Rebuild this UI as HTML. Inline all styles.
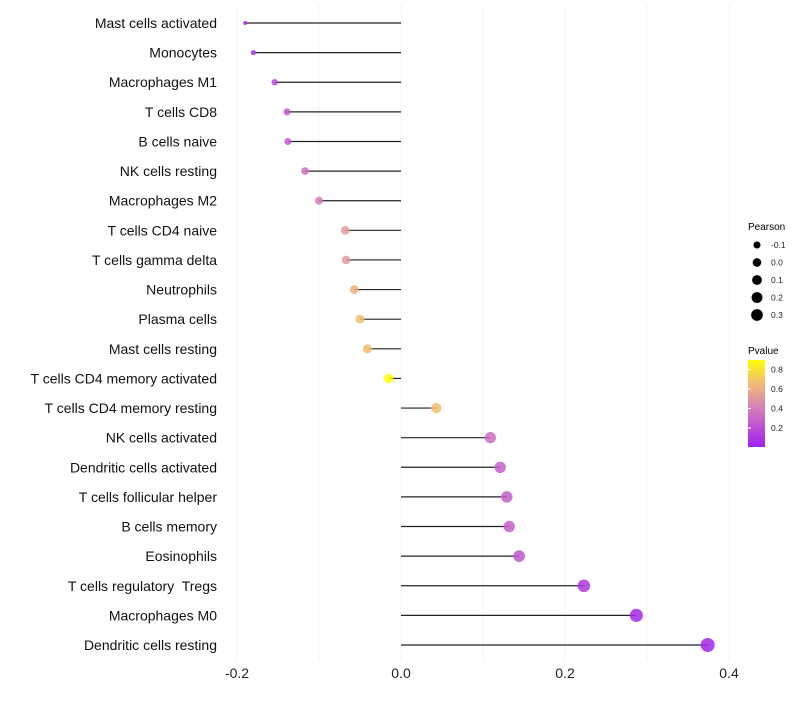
<!DOCTYPE html>
<html><head><meta charset="utf-8"><style>
body{margin:0;background:#fff;font-family:"Liberation Sans",sans-serif}
text{white-space:pre}
</style></head><body>
<svg id="chart" width="800" height="700" xmlns="http://www.w3.org/2000/svg" font-family="Liberation Sans, sans-serif">
<defs><linearGradient id="pg" x1="0" y1="1" x2="0" y2="0">
<stop offset="0" stop-color="#a020f0"/><stop offset="0.45" stop-color="#d67fb8"/><stop offset="0.75" stop-color="#f2c070"/><stop offset="1" stop-color="#ffff00"/></linearGradient></defs>
<g id="grid"></g>
<g id="marks"></g>
<g id="ylabels"></g>
<g id="xlabels"></g>
<g>
<text x="748" y="230" font-size="10">Pearson</text>
<g id="sizeLeg"></g></g>
<g>
<text x="748" y="354" font-size="10">Pvalue</text>
<rect x="748" y="360" width="17" height="87" fill="url(#pg)"/>
<g id="colLeg"></g></g>
</svg>
<script>
const categories=["Mast cells activated","Monocytes","Macrophages M1","T cells CD8","B cells naive","NK cells resting","Macrophages M2","T cells CD4 naive","T cells gamma delta","Neutrophils","Plasma cells","Mast cells resting","T cells CD4 memory activated","T cells CD4 memory resting","NK cells activated","Dendritic cells activated","T cells follicular helper","B cells memory","Eosinophils","T cells regulatory  Tregs","Macrophages M0","Dendritic cells resting"];
const pearson=[-0.190,-0.180,-0.154,-0.139,-0.138,-0.117,-0.100,-0.068,-0.067,-0.057,-0.050,-0.041,-0.015,0.043,0.109,0.121,0.129,0.132,0.144,0.223,0.287,0.374];
const pvalue=[0.05,0.1,0.2,0.25,0.27,0.35,0.42,0.55,0.55,0.65,0.7,0.7,0.95,0.7,0.35,0.3,0.28,0.28,0.25,0.1,0.05,0.02];
const xTicks=[-0.2,0,0.2,0.4];
const xTickLabels=["-0.2","0.0","0.2","0.4"];
const sizeLegVals=[-0.1,0,0.1,0.2,0.3];
const colLegVals=[0.2,0.4,0.6,0.8];
const NS="http://www.w3.org/2000/svg";
const x=v=>401+v*820;
const y=i=>23+i*(622/21);
const r=v=>2+5*Math.sqrt(Math.max(0,(v+0.19)/0.564));
function lerp(a,b,t){return a.map((c,k)=>Math.round(c+(b[k]-c)*t));}
const stops=[[0,[160,32,240]],[0.43,[214,127,184]],[0.7,[242,192,112]],[0.95,[255,255,0]]];
function col(p){p=Math.max(0,Math.min(0.95,p));for(let k=1;k<stops.length;k++){if(p<=stops[k][0]){const t=(p-stops[k-1][0])/(stops[k][0]-stops[k-1][0]);const c=lerp(stops[k-1][1],stops[k][1],t);return `rgb(${c})`;}}return "rgb(255,255,0)";}
function mk(tag,attrs,parent){const e=document.createElementNS(NS,tag);for(const k in attrs)e.setAttribute(k,attrs[k]);document.getElementById(parent).appendChild(e);return e;}
for(let v=-0.2;v<=0.41;v+=0.1){const g=mk("line",{x1:x(v),x2:x(v),y1:5,y2:660,stroke:"#f3f3f3","stroke-width":1},"grid");

}
xTicks.forEach((t,i)=>{const e=mk("text",{x:x(t),y:678,"font-size":14,"text-anchor":"middle",fill:"#222"},"xlabels");e.textContent=xTickLabels[i];

});
categories.forEach((c,i)=>{
const t=mk("text",{x:217,y:y(i)+5,"font-size":14,"text-anchor":"end",fill:"#111"},"ylabels");t.textContent=c;


const l=mk("line",{x1:x(0),x2:x(pearson[i]),y1:y(i),y2:y(i),stroke:"#222","stroke-width":1.2},"marks");


const p=mk("circle",{cx:x(pearson[i]),cy:y(i),r:r(pearson[i]),fill:col(pvalue[i]),"fill-opacity":0.85},"marks");


});
sizeLegVals.forEach((v,i)=>{const cy=245+i*17.5;
const c=mk("circle",{cx:757,cy:cy,r:r(v)*0.88,fill:"#000"},"sizeLeg");


const t=mk("text",{x:771,y:cy+3,"font-size":8.5,fill:"#222"},"sizeLeg");t.textContent=v.toFixed(1);

});
colLegVals.forEach(v=>{const cy=447.5-v*97.5;
const t=mk("text",{x:771,y:cy+3,"font-size":8.5,fill:"#222"},"colLeg");t.textContent=v.toFixed(1);


const l=mk("line",{x1:748,x2:751,y1:cy,y2:cy,stroke:"#fff"},"colLeg");

});
</script>
</body></html>
